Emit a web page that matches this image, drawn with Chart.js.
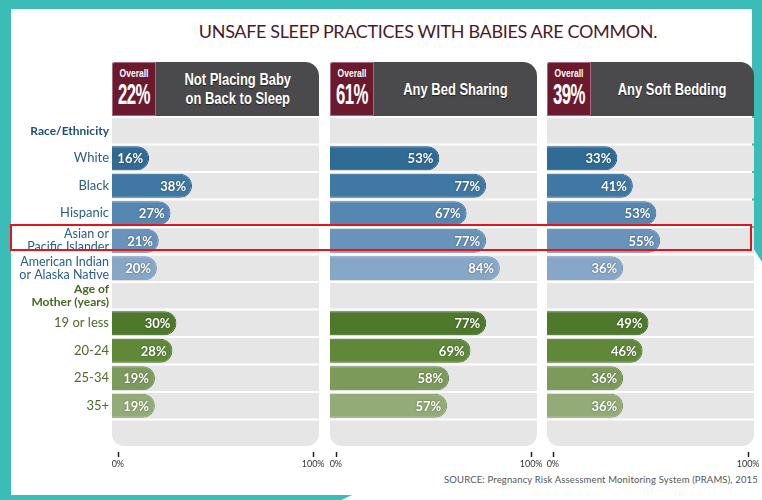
<!DOCTYPE html>
<html>
<head>
<meta charset="utf-8">
<script src="https://cdn.jsdelivr.net/npm/chart.js@4.4.1/dist/chart.umd.min.js"></script>
<style>
  html, body { margin: 0; padding: 0; }
  body {
    width: 762px; height: 500px; overflow: hidden; position: relative;
    background: #fff; font-family: Lato, 'Open Sans', sans-serif;
  }
  .teal { position: absolute; background: #3bbcb7; }
  #title {
    position: absolute; left: 128px; width: 600px; top: 20px;
    text-align: center; font-size: 18px; color: #4b1a2a; letter-spacing: -0.35px;
  }
  .head {
    position: absolute; top: 62px; height: 54px; background: #4a4a4c;
    border-top-right-radius: 14px; border-top-left-radius: 3px;
  }
  .overall {
    position: absolute; left: 0; top: 0; width: 42px; height: 52px;
    background: #6b1a2d; border: 1px solid #a86a7a; border-top-left-radius: 3px;
    color: #fff; text-align: center;
  }
  .overall .lbl {
    position: absolute; left: -10px; right: -10px; top: 5px;
    font: bold 10px 'Liberation Sans', sans-serif; transform: scaleX(0.85);
  }
  .overall .pct {
    position: absolute; left: -20px; right: -20px; top: 16px;
    font: bold 30px/30px 'Liberation Sans', sans-serif;
    transform: scaleX(0.56); letter-spacing: -1px;
  }
  .htitle {
    position: absolute; left: 44px; right: 0; top: 0; bottom: 0;
    display: flex; align-items: center; justify-content: center; text-align: center;
    color: #fff; font: bold 16px/19px 'Liberation Sans', sans-serif;
    text-shadow: 0 1px 1px rgba(0,0,0,0.6);
  }
  .htitle span { display: inline-block; transform: scaleX(0.81); white-space: nowrap; }
  canvas { position: absolute; top: 117px; }
  #highlight {
    position: absolute; left: 10px; top: 224px; width: 742px; height: 27px;
    border: 2px solid #e3151c; box-sizing: border-box;
  }
  #source {
    position: absolute; left: 444px; top: 474px; white-space: nowrap;
    font-size: 9.5px; color: #555; letter-spacing: 0.15px;
  }
</style>
</head>
<body>
<div class="teal" style="left:0;top:0;width:762px;height:9px"></div>
<div class="teal" style="left:0;top:0;width:11px;height:500px"></div>
<div class="teal" style="left:752px;top:0;width:10px;height:262px;clip-path:polygon(0 0,100% 0,100% 100%,0 94%)"></div>
<div class="teal" style="left:0;top:495px;width:352px;height:5px;clip-path:polygon(0 0,100% 0,97% 100%,0 100%)"></div>

<div id="title">UNSAFE SLEEP PRACTICES WITH BABIES ARE COMMON.</div>
<div id="heads"></div>

<canvas id="chart0" width="319" height="354" style="left:10px"></canvas>
<canvas id="chart1" width="227" height="354" style="left:320px"></canvas>
<canvas id="chart2" width="227" height="354" style="left:537px"></canvas>

<div id="highlight"></div>
<div id="source">SOURCE: Pregnancy Risk Assessment Monitoring System (PRAMS), 2015</div>

<script>
// rows down the left side (header rows and the blank bottom row have no value)
const categories = [
  'Race/Ethnicity', 'White', 'Black', 'Hispanic',
  ['Asian or', 'Pacific Islander'], ['American Indian', 'or Alaska Native'],
  ['Age of', 'Mother (years)'], '19 or less', '20-24', '25-34', '35+', ''
];

const notOnBack   = [null, 16, 38, 27, 21, 20, null, 30, 28, 19, 19, null];
const bedSharing  = [null, 53, 77, 67, 77, 84, null, 77, 69, 58, 57, null];
const softBedding = [null, 33, 41, 53, 55, 36, null, 49, 46, 36, 36, null];

const panelTitles = [['Not Placing Baby', 'on Back to Sleep'], ['Any Bed Sharing'], ['Any Soft Bedding']];
const overallPct = [22, 61, 39];
const tickValues = [0, 100];

// colours per row
const barColors = [null, '#306b96', '#3f78a3', '#5687b2', '#6a93bb', '#86a7c7',
                   null, '#4e792b', '#5f8939', '#7c9b5b', '#93ac77', null];
const barBorders = [null, '#1d5582', '#2a6490', '#3f729f', '#5280aa', '#6c91b6',
                    null, '#3b6420', '#4a732a', '#64854a', '#7a9662', null];

// scale runs a little past 0 and 100 so the grey panel has a margin
const X_MIN = -3;
const X_MAX = 103;

const panels = [
  { values: notOnBack,   padLeft: 0,  showLabels: true },
  { values: bedSharing,  padLeft: 10, showLabels: false },
  { values: softBedding, padLeft: 10, showLabels: false }
];

// Header boxes above each panel
const headLefts = [112, 330, 547];
const heads = document.getElementById('heads');
panelTitles.forEach((t, i) => {
  const h = document.createElement('div');
  h.className = 'head';
  h.style.left = headLefts[i] + 'px';
  h.style.width = '207px';
  h.innerHTML = `<div class="overall"><div class="lbl">Overall</div><div class="pct">${overallPct[i]}%</div></div>` +
                `<div class="htitle"><span>${t.join('<br>')}</span></div>`;
  heads.appendChild(h);
});

// Draws the white percentage text inside the end of each bar
const valueLabels = {
  id: 'valueLabels',
  afterDatasetsDraw(chart) {
    const ds = chart.data.datasets[0];
    const meta = chart.getDatasetMeta(0);
    const ctx = chart.ctx;
    ctx.save();
    ctx.font = 'bold 13px Lato, sans-serif';
    ctx.fillStyle = '#fff';
    ctx.textAlign = 'right';
    ctx.textBaseline = 'middle';
    ctx.shadowColor = 'rgba(0,0,0,0.45)';
    ctx.shadowBlur = 2;
    meta.data.forEach((bar, i) => {
      const v = ds.data[i];
      if (!v) return;
      ctx.fillText(v[1] + '%', bar.x - 6, bar.y + 1);
    });
    ctx.restore();
  }
};

// Small tick marks under the panel, a few pixels below the grey area
const tickMarks = {
  id: 'tickMarks',
  afterDraw(chart) {
    const x = chart.scales.x;
    const ctx = chart.ctx;
    const top = chart.chartArea.bottom + 5;
    ctx.save();
    ctx.strokeStyle = '#222';
    ctx.lineWidth = 1.5;
    tickValues.forEach(v => {
      const px = Math.round(x.getPixelForValue(v)) + 0.5;
      ctx.beginPath();
      ctx.moveTo(px, top);
      ctx.lineTo(px, top + 5);
      ctx.stroke();
    });
    ctx.restore();
  }
};

const labelColor = (i) => {
  if (i === 0) return '#1d4f7c';
  if (i === 6) return '#45691f';
  return i < 6 ? '#2b5d88' : '#4b6b2c';
};

const labelFont = (i) => {
  if (i === 0 || i === 6) return { family: 'Lato, sans-serif', size: 12, weight: 'bold', lineHeight: 1.1 };
  if (i === 4 || i === 5) return { family: 'Lato, sans-serif', size: 12.5, lineHeight: 1.05 };
  return { family: 'Lato, sans-serif', size: 13 };
};

const renderPanel = (p, idx) => {
  const ctx = document.getElementById('chart' + idx).getContext('2d');
  return new Chart(ctx, {
    type: 'bar',
    data: {
      labels: categories,
      datasets: [
        {
          data: p.values.map(v => (v == null ? null : [X_MIN, v])),
          backgroundColor: barColors,
          borderColor: barBorders,
          borderWidth: 1,
          borderRadius: 12,
          borderSkipped: 'start',
          barPercentage: 0.88,
          categoryPercentage: 1,
          grouped: false,
          order: 0
        },
        {
          data: categories.map(() => [X_MIN, X_MAX]),
          backgroundColor: '#e6e6e6',
          borderWidth: 0,
          borderSkipped: false,
          borderRadius: (c) => (c.dataIndex === categories.length - 1
            ? { topLeft: 0, topRight: 0, bottomLeft: 12, bottomRight: 12 } : 0),
          barPercentage: 0.93,
          categoryPercentage: 1,
          grouped: false,
          order: 1
        }
      ]
    },
    options: {
      indexAxis: 'y',
      responsive: false,
      animation: false,
      devicePixelRatio: 1,
      layout: { padding: { left: p.padLeft, right: 10, top: 0, bottom: 0 } },
      plugins: { legend: { display: false }, tooltip: { enabled: false } },
      scales: {
        x: {
          min: X_MIN,
          max: X_MAX,
          afterBuildTicks: (s) => { s.ticks = tickValues.map(v => ({ value: v })); },
          afterFit: (s) => {
            s.height = 24;
            s.paddingLeft = 0;
            s.paddingRight = 0;
          },
          border: { display: false },
          grid: { drawOnChartArea: false, drawTicks: false },
          ticks: {
            autoSkip: false,
            maxRotation: 0,
            padding: 12,
            color: '#333',
            font: { family: 'Lato, sans-serif', size: 9 },
            callback: (v) => v + '%'
          }
        },
        y: {
          display: p.showLabels,
          afterFit: (s) => {
            if (!p.showLabels) return;
            s.width = 102;
            s.paddingTop = 0;
            s.paddingBottom = 0;
          },
          border: { display: false },
          grid: { display: false, drawTicks: false },
          ticks: {
            autoSkip: false,
            padding: 3,
            color: (c) => labelColor(c.index),
            font: (c) => labelFont(c.index)
          }
        }
      }
    },
    plugins: [valueLabels, tickMarks]
  });
};

panels.forEach(renderPanel);
</script>
</body>
</html>
